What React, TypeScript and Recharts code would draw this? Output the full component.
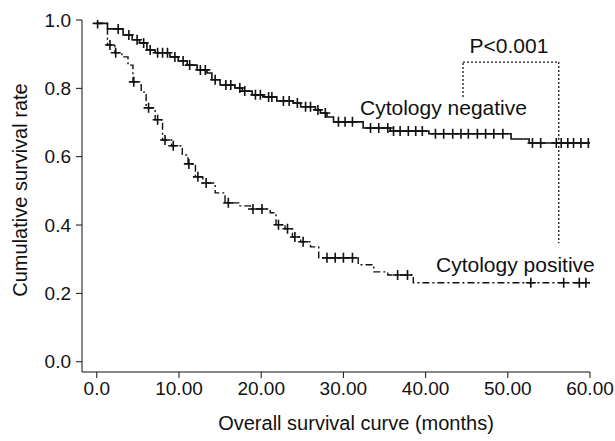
import { ComposedChart, Line, Scatter, XAxis, YAxis, ReferenceLine } from "recharts";

// Kaplan-Meier steps (time in months, survival rate)
const negTimes = [0, 1.3, 3.2, 4.3, 5.2, 6.1, 7.1, 8.9, 9.9, 11.0, 12.2, 13.4, 14.0, 15.0, 16.8, 17.7, 18.9, 20.2, 21.9, 23.9, 24.8, 26.6, 27.2, 28.0, 28.8, 32.4, 35.7, 40.4, 50.4, 52.6, 60];
const negSurv = [0.99, 0.974, 0.956, 0.942, 0.933, 0.912, 0.904, 0.892, 0.88, 0.868, 0.854, 0.845, 0.825, 0.81, 0.801, 0.792, 0.781, 0.775, 0.763, 0.757, 0.746, 0.737, 0.728, 0.716, 0.702, 0.684, 0.675, 0.667, 0.652, 0.64, 0.64];

const posTimes = [0, 1.3, 2.2, 3.05, 3.8, 4.4, 5.4, 6.0, 7.1, 8.0, 9.1, 10.4, 11.1, 12.0, 12.9, 14.4, 15.6, 17.4, 18.7, 21.1, 21.8, 22.9, 23.8, 24.8, 26.0, 27.0, 31.8, 33.7, 35.4, 38.5, 60];
const posSurv = [0.99, 0.927, 0.904, 0.892, 0.868, 0.819, 0.789, 0.743, 0.708, 0.649, 0.632, 0.605, 0.579, 0.541, 0.523, 0.494, 0.465, 0.456, 0.447, 0.436, 0.401, 0.389, 0.365, 0.351, 0.336, 0.304, 0.284, 0.263, 0.254, 0.231, 0.231];

// censored observations (months)
const negCensored = [0.1, 2.6, 3.9, 4.9, 5.7, 6.5, 7.4, 8.0, 8.6, 9.5, 10.5, 11.3, 12.6, 13.2, 14.4, 15.7, 16.3, 17.4, 18.0, 19.3, 19.9, 20.9, 21.3, 22.7, 23.4, 24.4, 25.4, 26.0, 26.9, 27.8, 29.4, 30.2, 31.1, 33.3, 34.3, 35.4, 36.1, 36.9, 37.9, 38.8, 39.6, 41.2, 42.2, 43.3, 44.3, 45.2, 46.3, 47.3, 48.3, 49.4, 53.0, 54.0, 55.9, 56.5, 57.3, 58.0, 58.9, 59.8];
const posCensored = [1.6, 2.3, 4.5, 6.3, 7.4, 8.3, 9.3, 11.2, 12.3, 13.3, 16.0, 19.0, 20.1, 22.1, 23.2, 24.1, 25.1, 28.0, 29.0, 30.0, 31.1, 36.6, 37.8, 52.8, 56.8, 58.7, 59.5];

const xTicks = [0, 10, 20, 30, 40, 50, 60];
const yTicks = [0, 0.2, 0.4, 0.6, 0.8, 1.0];

const FONT = "'Liberation Sans', Arial, sans-serif";

const toSteps = (times: number[], surv: number[]) => times.map((t, i) => ({ t, s: surv[i] }));

const survivalAt = (times: number[], surv: number[], t: number) => {
  let s = surv[0];
  for (let i = 0; i < times.length; i++) {
    if (times[i] <= t) s = surv[i];
  }
  return s;
};

const toCensor = (cens: number[], times: number[], surv: number[]) =>
  cens.map((t) => ({ t, s: survivalAt(times, surv, t) }));

const negData = toSteps(negTimes, negSurv);
const posData = toSteps(posTimes, posSurv);
const negMarks = toCensor(negCensored, negTimes, negSurv);
const posMarks = toCensor(posCensored, posTimes, posSurv);

const Plus = (props: any) => {
  const { cx, cy } = props;
  if (cx == null || cy == null) return null;
  return (
    <path
      d={`M${cx - 5},${cy}H${cx + 5}M${cx},${cy - 5}V${cy + 5}`}
      stroke="#111"
      strokeWidth={1.6}
      fill="none"
    />
  );
};

const fmtX = (v: number) => (v === 0 ? "0.0" : v.toFixed(2));

export default function App() {
  return (
    <div style={{ position: "absolute", left: 0, top: 0, width: 615, height: 441, background: "#fff" }}>
      <ComposedChart
        width={615}
        height={441}
        margin={{ top: 20, right: 25, bottom: 9, left: 0 }}
        style={{ fontFamily: FONT }}
      >
        <XAxis
          type="number"
          dataKey="t"
          domain={[-1.8, 60]}
          ticks={xTicks}
          tickFormatter={fmtX}
          allowDataOverflow
          height={60}
          tickSize={6}
          tickMargin={4}
          stroke="#111"
          tick={{ fill: "#111", fontSize: 19 }}
          label={{ value: "Overall survival curve (months)", position: "insideBottom", offset: 2, dx: 20, fill: "#111", fontSize: 20 }}
        />
        <YAxis
          type="number"
          dataKey="s"
          domain={[-0.03, 1]}
          ticks={yTicks}
          tickFormatter={(v: number) => v.toFixed(1)}
          allowDataOverflow
          width={82}
          tickSize={6}
          tickMargin={5}
          stroke="#111"
          tick={{ fill: "#111", fontSize: 19 }}
          label={{ value: "Cumulative survival rate", angle: -90, position: "insideLeft", offset: 20, dy: -6, fill: "#111", fontSize: 20, style: { textAnchor: "middle" } }}
        />
        <Line
          data={negData}
          dataKey="s"
          type="stepAfter"
          stroke="#111"
          strokeWidth={1.6}
          dot={false}
          isAnimationActive={false}
        />
        <Line
          data={posData}
          dataKey="s"
          type="stepAfter"
          stroke="#111"
          strokeWidth={1.4}
          strokeDasharray="7 3 2 3"
          dot={false}
          isAnimationActive={false}
        />
        <Scatter data={negMarks} dataKey="s" shape={Plus} isAnimationActive={false} />
        <Scatter data={posMarks} dataKey="s" shape={Plus} isAnimationActive={false} />
        <ReferenceLine segment={[{ x: 44.55, y: 0.775 }, { x: 44.55, y: 0.877 }]} stroke="#111" strokeWidth={1.3} strokeDasharray="2 2" />
        <ReferenceLine segment={[{ x: 44.55, y: 0.877 }, { x: 56.2, y: 0.877 }]} stroke="#111" strokeWidth={1.3} strokeDasharray="2 2" />
        <ReferenceLine segment={[{ x: 56.2, y: 0.877 }, { x: 56.2, y: 0.347 }]} stroke="#111" strokeWidth={1.3} strokeDasharray="2 2" />
      </ComposedChart>
      <svg width={615} height={441} style={{ position: "absolute", left: 0, top: 0, pointerEvents: "none" }}>
        <g fontFamily={FONT} fontSize={21} fill="#111">
          <text x={509} y={53} textAnchor="middle">P&lt;0.001</text>
          <text x={360} y={115}>Cytology negative</text>
          <text x={436} y={272}>Cytology positive</text>
        </g>
      </svg>
    </div>
  );
}
